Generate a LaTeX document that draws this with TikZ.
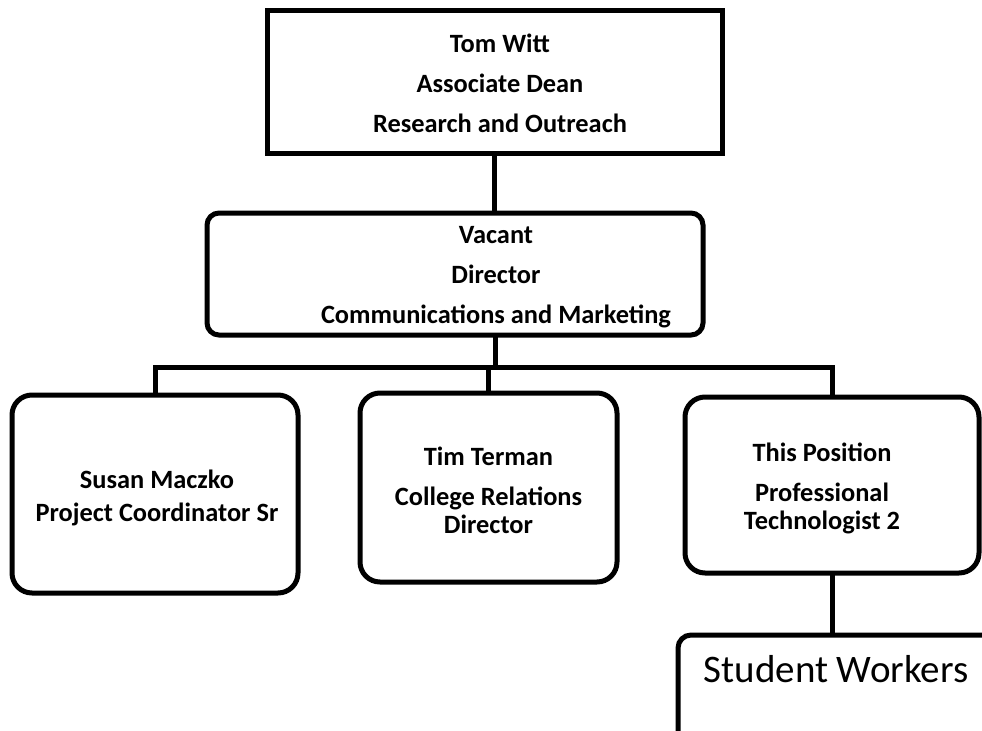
\documentclass[tikz,border=0pt]{standalone}
\usepackage{fontspec}
\setmainfont{Carlito}
\begin{document}
\begin{tikzpicture}[x=0.5pt,y=-0.5pt, line width=2.5pt,
  box/.style={draw, inner sep=0pt, outer sep=0pt},
  rbox/.style={box, rounded corners=10pt},
  txt/.style={align=center, font=\fontsize{13.2}{14}\selectfont\bfseries, inner sep=0pt},
  conn/.style={line width=2.5pt}]
\clip (0,0) rectangle (982,730);
% boxes
\node[box, minimum width=227.5pt, minimum height=71.5pt] (top) at (494.5,81.5) {};
\node[txt] (toptxt) at (500,83) {Tom Witt\\[6pt]Associate Dean\\[6pt]Research and Outreach};
\node[box, rounded corners=6pt, minimum width=248pt, minimum height=61pt] (mid) at (455,274) {};
\node[txt] (midtxt) at (496,277) {Vacant\\[6pt]Director\\[6pt]Communications and Marketing};
\node[rbox, minimum width=143pt, minimum height=99pt] (susan) at (155,494) {};
\node[txt] (susantxt) at (157,497.5) {Susan Maczko\\[2.5pt]Project Coordinator Sr};
\node[rbox, minimum width=128.5pt, minimum height=94.5pt] (tim) at (488.5,487.5) {};
\node[txt] (timtxt) at (488.5,490) {Tim Terman\\[6pt]College Relations\\Director};
\node[rbox, minimum width=147pt, minimum height=88pt] (pos) at (832,485) {};
\node[txt] (postxt) at (822,488) {This Position\\[6pt]Professional\\Technologist 2};
\node[box, rounded corners=6.5pt, minimum width=161pt, minimum height=62.5pt] (student) at (839,697.5) {};
\node[anchor=base, inner sep=0pt, font=\fontsize{19.5}{22}\selectfont] (studenttxt) at (836,682) {Student Workers};
% connectors
\coordinate (j) at (495,367);
\draw[conn] (top.south) -- (mid.north -| top.south);
\draw[conn] (mid.south -| j) -- (j);
\draw[conn] (susan.north) -- (susan.north |- j) -- (pos.north |- j) -- (pos.north);
\draw[conn] (tim.north |- j) -- (tim.north);
\draw[conn] (pos.south) -- (student.north -| pos.south);
\end{tikzpicture}
\end{document}
